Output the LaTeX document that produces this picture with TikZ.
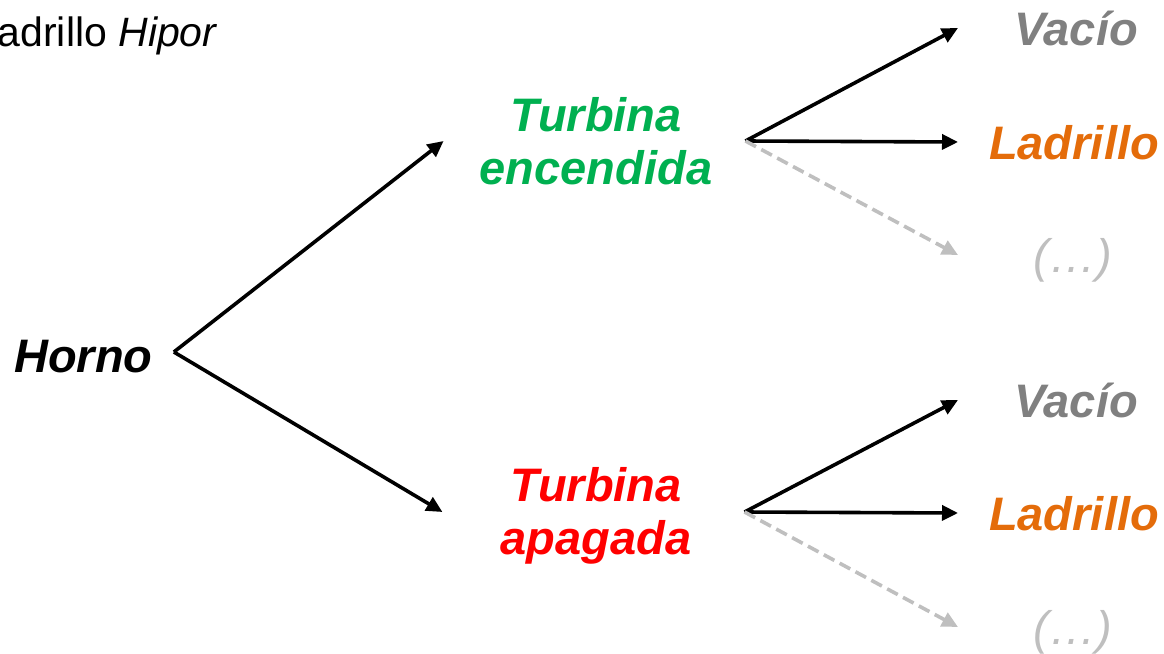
\documentclass[tikz,border=0pt]{standalone}
\usepackage{fontspec}
\setmainfont{Liberation Sans}
\usetikzlibrary{arrows.meta,calc}
\definecolor{onGreen}{HTML}{00B050}
\definecolor{offRed}{HTML}{FF0000}
\definecolor{brickOrange}{HTML}{E46C0A}
\definecolor{emptyGray}{HTML}{808080}
\definecolor{moreGray}{HTML}{BFBFBF}
\begin{document}
\begin{tikzpicture}[x=1pt,y=-1pt,
  lbl/.style={inner sep=0pt, font=\fontsize{47}{53}\selectfont\bfseries\itshape},
  leaf/.style={lbl, anchor=base, text height=34pt, text depth=0pt},
  arr/.style={line width=3.6pt, -{Triangle[length=16pt,width=15pt]}},
  darr/.style={arr, moreGray, dash pattern=on 12pt off 6pt},
]
\useasboundingbox (0,0) rectangle (1164,653);

% heading
\node[inner sep=0pt, anchor=base east, font=\fontsize{41}{46}\selectfont] (title) at (218,46) {Ladrillo \textit{Hipor}};

% root and turbine states
\node[leaf] (horno) at (83.5,372) {Horno};
\node[lbl, onGreen, align=center] (te) at (596,141) {Turbina\\encendida};
\node[lbl, offRed, align=center] (ta) at (596,516) {Turbina\\apagada};

% outcomes
\node[leaf, emptyGray] (v1) at (1076,45) {Vacío};
\node[leaf, brickOrange] (l1) at (1074,159) {Ladrillo};
\node[leaf, moreGray, font=\fontsize{47}{53}\selectfont\itshape] (m1) at (1073,272) {(…)};
\node[leaf, emptyGray] (v2) at (1076,417) {Vacío};
\node[leaf, brickOrange] (l2) at (1074,530) {Ladrillo};
\node[leaf, moreGray, font=\fontsize{47}{53}\selectfont\itshape] (m2) at (1073,644) {(…)};

% branch points beside the labels
\coordinate (root) at ([xshift=21pt,yshift=3pt]horno.east);
\coordinate (tein) at ([xshift=-36pt]te.west);
\coordinate (tain) at ([xshift=-58pt,yshift=4pt]ta.west);
\coordinate (teout) at ([xshift=33pt]te.east);
\coordinate (taout) at ([xshift=53pt,yshift=4pt]ta.east);
\coordinate (tipcol) at (958,0);

% connectors
\draw[arr] (root) -- (tein);
\draw[arr] (root) -- (tain);
\draw[arr] (teout) -- (tipcol |- v1.west);
\draw[arr] (teout) -- (tipcol |- l1.west);
\draw[darr] (teout) -- (tipcol |- m1.west);
\draw[arr] (taout) -- (tipcol |- v2.west);
\draw[arr] (taout) -- (tipcol |- l2.west);
\draw[darr] (taout) -- (tipcol |- m2.west);
\end{tikzpicture}
\end{document}
